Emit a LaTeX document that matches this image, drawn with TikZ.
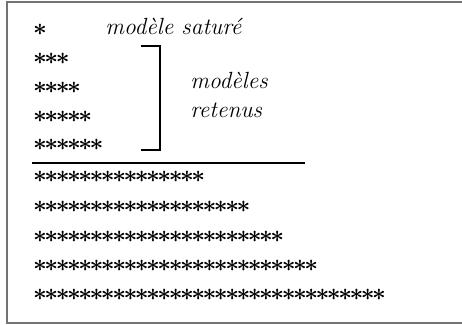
\documentclass[tikz,border=0pt]{standalone}
\usepackage{amsmath,amssymb,bm}
\usetikzlibrary{positioning}
\newcommand{\etoiles}[1]{\foreach\k in {1,...,#1}{\makebox[5.65pt]{$\bm{\ast}$}}}
\tikzset{rangee/.style={anchor=west,inner sep=0pt,font=\fontsize{12}{13}\selectfont},
  legende/.style={anchor=base west,inner sep=0pt,font=\fontsize{11.7}{14}\selectfont\itshape}}

\begin{document}
\begin{tikzpicture}[x=0.5pt,y=-0.5pt]
\useasboundingbox (0,0) rectangle (462,325);
% cadre ouvert a droite
\draw[black!55,line width=1pt] (462,2)--(7,2)--(7,323)--(462,323);
% modeles du haut
\node[rangee] (r1) at (34,30) {\etoiles{1}};
\node[rangee] (r2) at (34,59) {\etoiles{3}};
\node[rangee] (r3) at (34,88) {\etoiles{4}};
\node[rangee] (r4) at (34,117) {\etoiles{5}};
\node[rangee] (r5) at (34,145) {\etoiles{6}};
\node[legende] (sat) at (105,35) {modèle saturé};
\draw[line width=1pt] (141,46)--(160,46)--(160,150)--(141,150);
\node[legende] (mod) at (190,89) {modèles};
\node[legende] (ret) at (190,118) {retenus};
\draw[line width=0.8pt] (32,163)--(305,163);
% modeles du bas
\node[rangee] (s1) at (34,177) {\etoiles{15}};
\node[rangee] (s2) at (34,207) {\etoiles{19}};
\node[rangee] (s3) at (34,237) {\etoiles{22}};
\node[rangee] (s4) at (34,266) {\etoiles{25}};
\node[rangee] (s5) at (34,295) {\etoiles{31}};
\end{tikzpicture}
\end{document}
